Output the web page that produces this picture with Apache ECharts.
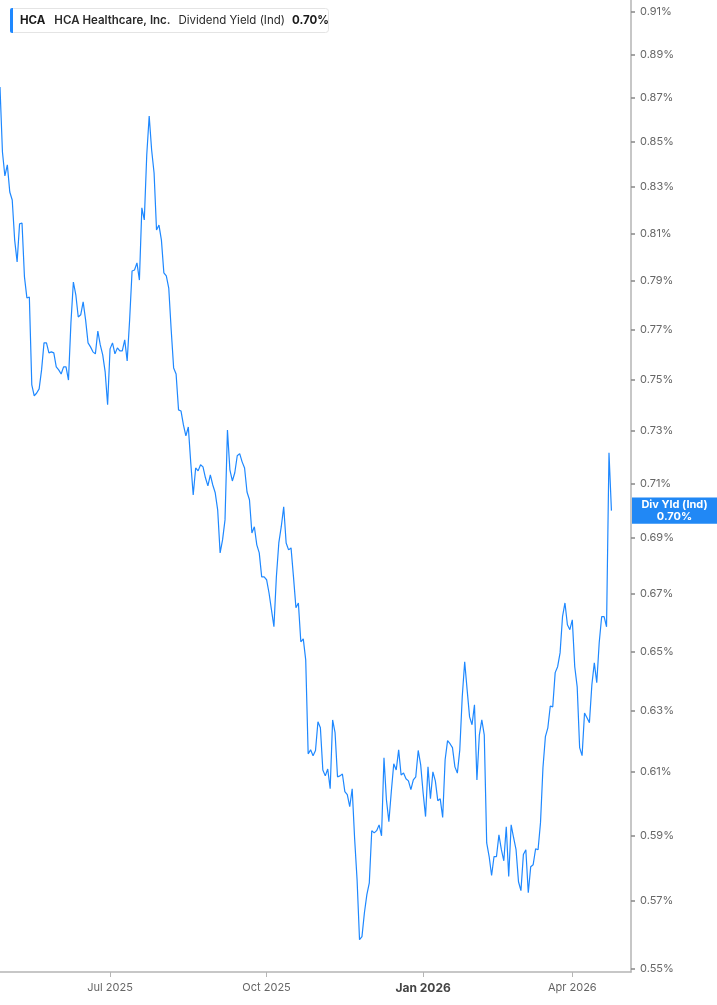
<!DOCTYPE html>
<html><head><meta charset="utf-8">
<script src="https://cdn.jsdelivr.net/npm/echarts@6/dist/echarts.min.js"></script>
<style>html,body{margin:0;padding:0;background:#fff;}#c{width:717px;height:1005px;}</style>
</head><body><div id="c"></div>
<script>
// ---- data ----
const startDate = '2025-04-25';
const endDate = '2026-05-06';
const marketHolidays = ['2025-05-26','2025-06-19','2025-07-04','2025-09-01','2025-11-27','2025-12-25','2026-01-01','2026-01-19','2026-02-16','2026-04-03'];
const yieldValues = [
0.8748,0.8454,0.8348,0.8397,0.8278,0.8243,0.8071,0.7979,0.8140,0.8144,
0.7916,0.7829,0.7833,0.7479,0.7436,0.7447,0.7463,0.7538,0.7646,0.7646,
0.7606,0.7610,0.7606,0.7550,0.7538,0.7522,0.7550,0.7550,0.7498,0.7727,
0.7895,0.7842,0.7751,0.7760,0.7813,0.7739,0.7646,0.7630,0.7610,0.7602,
0.7694,0.7638,0.7598,0.7530,0.7401,0.7622,0.7646,0.7602,0.7626,0.7614,
0.7614,0.7658,0.7574,0.7739,0.7941,0.7945,0.7975,0.7903,0.8209,0.8157,
0.8441,0.8616,0.8463,0.8361,0.8114,0.8135,0.8071,0.7933,0.7920,0.7870,
0.7698,0.7546,0.7522,0.7381,0.7377,0.7323,0.7281,0.7315,0.7178,0.7058,
0.7159,0.7148,0.7171,0.7163,0.7122,0.7092,0.7133,0.7095,0.7066,0.7003,
0.6846,0.6893,0.6966,0.7303,0.7152,0.7110,0.7141,0.7205,0.7213,0.7182,
0.7159,0.7069,0.7040,0.6918,0.6941,0.6875,0.6846,0.6760,0.6760,0.6750,
0.6703,0.6644,0.6585,0.6760,0.6882,0.6941,0.7014,0.6882,0.6857,0.6864,
0.6760,0.6651,0.6668,0.6533,0.6543,0.6471,0.6159,0.6172,0.6153,0.6170,
0.6264,0.6244,0.6107,0.6088,0.6110,0.6047,0.6270,0.6228,0.6085,0.6088,
0.6094,0.6038,0.6028,0.5990,0.6047,0.5890,0.5764,0.5585,0.5594,0.5665,
0.5719,0.5755,0.5915,0.5908,0.5915,0.5933,0.5899,0.6146,0.6012,0.5943,
0.6038,0.6127,0.6107,0.6172,0.6091,0.6097,0.6079,0.6072,0.6044,0.6075,
0.6085,0.6170,0.6124,0.6034,0.5959,0.6117,0.6015,0.6101,0.6072,0.6009,
0.6015,0.5956,0.6140,0.6202,0.6192,0.6179,0.6117,0.6097,0.6172,0.6347,
0.6465,0.6370,0.6280,0.6254,0.6320,0.6075,0.6221,0.6270,0.6221,0.5877,
0.5835,0.5777,0.5835,0.5835,0.5902,0.5856,0.5822,0.5927,0.5774,0.5933,
0.5893,0.5856,0.5758,0.5731,0.5841,0.5856,0.5725,0.5804,0.5810,0.5859,
0.5856,0.5940,0.6114,0.6215,0.6244,0.6316,0.6313,0.6428,0.6448,0.6495,
0.6620,0.6668,0.6592,0.6575,0.6609,0.6448,0.6380,0.6179,0.6153,0.6293,
0.6277,0.6261,0.6387,0.6461,0.6394,0.6530,0.6620,0.6620,0.6585,0.7216,
0.7000
];
const yTickValues = [0.55,0.57,0.59,0.61,0.63,0.65,0.67,0.69,0.71,0.73,0.75,0.77,0.79,0.81,0.83,0.85,0.87,0.89,0.91];
const yMin = 0.5491, yMax = 0.9158;
const lastValue = 0.70;
const monthNames = ['Jan','Feb','Mar','Apr','May','Jun','Jul','Aug','Sep','Oct','Nov','Dec'];

// trading-day categories
function tradingDays(s, e) {
  const out = [];
  const d = new Date(s + 'T00:00:00Z');
  const end = new Date(e + 'T00:00:00Z');
  while (d <= end) {
    const wd = d.getUTCDay();
    const iso = d.toISOString().slice(0, 10);
    if (wd !== 0 && wd !== 6 && marketHolidays.indexOf(iso) < 0) out.push(iso);
    d.setUTCDate(d.getUTCDate() + 1);
  }
  return out;
}
const categories = tradingDays(startDate, endDate);
function isQuarterStart(i) {
  if (i <= 0) return false;
  const m = +categories[i].slice(5, 7), pm = +categories[i - 1].slice(5, 7);
  return m !== pm && (m === 1 || m === 4 || m === 7 || m === 10);
}

const FONT = 'Inter, "Noto Sans", sans-serif';
const LF = 11.5;
const chart = echarts.init(document.getElementById('c'));
chart.setOption({
  animation: false,
  backgroundColor: '#fff',
  title: {
    left: 10, top: 8, padding: 0,
    borderColor: '#e4e4e4', borderWidth: 1, borderRadius: 3,
    backgroundColor: '#fff',
    text: '{bar|}{t|HCA}{n|HCA Healthcare, Inc.}{d|Dividend Yield (Ind)}{v|0.70%}',
    textStyle: {
      fontFamily: FONT, fontSize: LF,
      rich: {
        bar: { width: 3, height: 25, backgroundColor: '#1e88ff', borderRadius: [2, 0, 0, 2] },
        t: { fontFamily: FONT, fontSize: LF, fontWeight: 'bold', color: '#1a1a1a', padding: [0, 0, 0, 7] },
        n: { fontFamily: FONT, fontSize: LF, fontWeight: 600, color: '#2a2a2a', padding: [0, 0, 0, 9] },
        d: { fontFamily: FONT, fontSize: LF, fontWeight: 'normal', color: '#2a2a2a', padding: [0, 0, 0, 8] },
        v: { fontFamily: FONT, fontSize: LF, fontWeight: 'bold', color: '#1a1a1a', padding: [0, 7, 0, 7] }
      }
    }
  },
  grid: { left: 0, right: 86, top: 0, bottom: 33, containLabel: false },
  xAxis: {
    type: 'category', data: categories, boundaryGap: false,
    axisLine: { show: true, lineStyle: { color: '#b5b5b5', width: 1.5 } },
    axisTick: { show: true, interval: (i) => isQuarterStart(i), length: 5, lineStyle: { color: '#b5b5b5', width: 1 } },
    axisLabel: {
      interval: (i) => isQuarterStart(i),
      margin: 10, color: '#666', fontSize: 11, fontFamily: FONT,
      formatter: (v) => {
        const m = +v.slice(5, 7), y = v.slice(0, 4);
        const s = monthNames[m - 1] + ' ' + y;
        return m === 1 ? '{b|' + s + '}' : s;
      },
      rich: { b: { fontWeight: 'bold', color: '#444', fontSize: 12, fontFamily: FONT } }
    },
    splitLine: { show: false }
  },
  yAxis: {
    type: 'log', logBase: 10, position: 'right', min: yMin, max: yMax,
    axisLine: { show: true, lineStyle: { color: '#b5b5b5', width: 1.5 } },
    axisTick: { show: true, customValues: yTickValues, length: 4, lineStyle: { color: '#888', width: 1.5 } },
    axisLabel: {
      customValues: yTickValues, margin: 9, color: '#666', fontSize: 11, fontFamily: FONT,
      formatter: (v) => Number(v).toFixed(2) + '%'
    },
    splitLine: { show: false }
  },
  series: [{
    type: 'line', data: yieldValues, showSymbol: false, symbol: 'none',
    lineStyle: { color: '#1e88ff', width: 1.2 },
    markLine: {
      silent: true, symbol: 'none', animation: false,
      lineStyle: { color: 'rgba(0,0,0,0)', width: 1, type: 'solid' },
      data: [{ yAxis: lastValue }],
      label: {
        show: true, position: 'end', distance: 1,
        backgroundColor: '#2188f5', padding: [1, 6, 1, 6],
        formatter: '{a|Div Yld (Ind)}\n{a|' + lastValue.toFixed(2) + '%}',
        rich: { a: { width: 73, align: 'center', color: '#fff', fontWeight: 'bold', fontSize: 11, lineHeight: 12, fontFamily: FONT } }
      }
    }
  }]
});
</script></body></html>
